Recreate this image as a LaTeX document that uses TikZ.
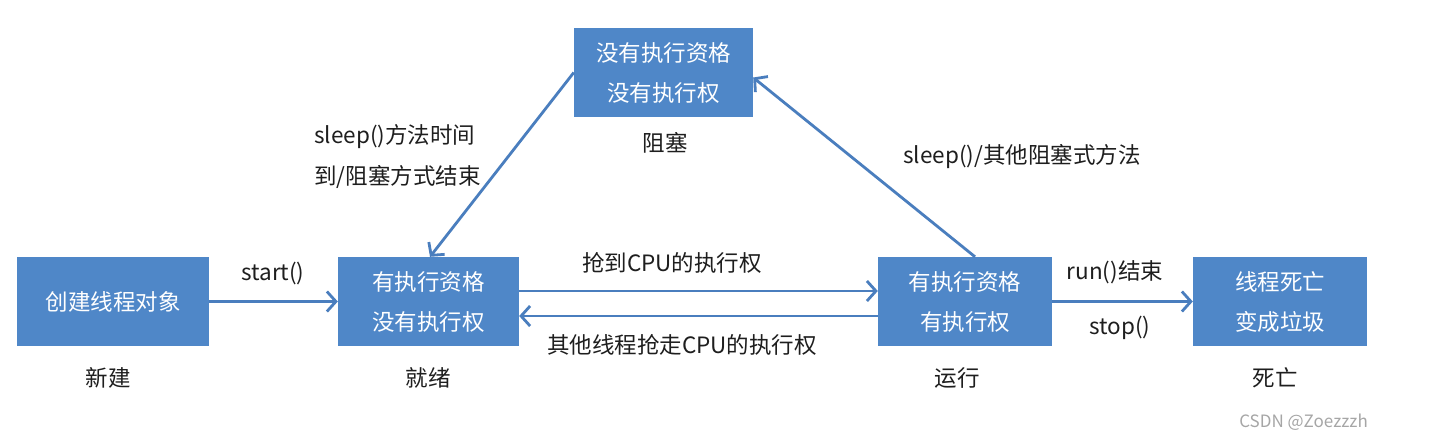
\documentclass[tikz,border=0pt]{standalone}
\usepackage{fontspec}
\setmainfont{Noto Sans CJK SC}
\usetikzlibrary{arrows.meta}
\definecolor{boxblue}{RGB}{79,135,200}
\definecolor{arrowblue}{RGB}{74,126,190}
\definecolor{labeltext}{RGB}{30,30,30}
\begin{document}
\begin{tikzpicture}[x=1pt,y=-1pt,
  statebox/.style={fill=boxblue, draw=none, text=white, align=center,
    minimum height=89pt, inner sep=0pt, font=\fontsize{22.5}{40}\selectfont},
  lbl/.style={text=labeltext, inner sep=0pt, font=\fontsize{22.5}{40}\selectfont},
  conn/.style={draw=arrowblue, line width=2.8pt,
    -{Straight Barb[length=9pt,width=20pt,line width=2.8pt]}}]
\fill[white] (0,0) rectangle (1437,440);
\useasboundingbox (0,0) rectangle (1437,440);

\node[statebox, minimum width=192pt] (b1) at (113,301.5) {创建线程对象};
\node[statebox, minimum width=181pt] (b2) at (428.5,301.5) {有执行资格\\没有执行权};
\node[statebox, minimum width=174pt] (b3) at (965,301.5) {有执行资格\\有执行权};
\node[statebox, minimum width=174pt] (b4) at (1280,301.5) {线程死亡\\变成垃圾};
\node[statebox, minimum width=179pt] (b5) at (663.5,72.5) {没有执行资格\\没有执行权};

\node[lbl] (l1) at (108,378) {新建};
\node[lbl] (l2) at (428,378) {就绪};
\node[lbl] (l3) at (957,378) {运行};
\node[lbl] (l4) at (1275,378) {死亡};
\node[lbl] (l5) at (665,143) {阻塞};

\draw[conn] (b1) -- (b2);
\draw[conn] ([yshift=10.5pt]b2.east) -- ([yshift=10.5pt]b3.west);
\draw[conn] ([yshift=-14.5pt]b3.west) -- ([yshift=-14.5pt]b2.east);
\draw[conn] (b3) -- (b4);
\draw[conn] (b5.west) -- ([xshift=1.5pt]b2.north);
\draw[conn] ([xshift=10pt]b3.north) -- ([yshift=-5pt]b5.east);

\node[lbl] (t1) at (273,273) {start()};
\node[lbl] (t2) at (672,263) {抢到CPU的执行权};
\node[lbl] (t3) at (682,345) {其他线程抢走CPU的执行权};
\node[lbl] (t4) at (1115,272) {run()结束};
\node[lbl] (t5) at (1120,328) {stop()};
\node[lbl, anchor=west] (t6) at (314,137) {sleep()方法时间};
\node[lbl, anchor=west] (t7) at (314,177) {到/阻塞方式结束};
\node[lbl, anchor=west] (t8) at (903,157) {sleep()/其他阻塞式方法};
\node[text=black!35, inner sep=0pt, font=\fontsize{17}{20}\selectfont, anchor=east] (wm) at (1368,422) {CSDN @Zoezzzh};
\end{tikzpicture}
\end{document}
